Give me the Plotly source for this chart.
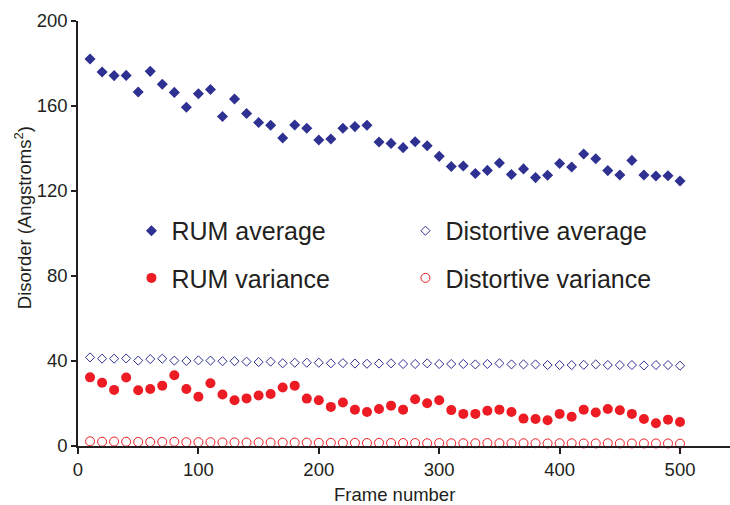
import plotly.graph_objects as go

# Frame numbers sampled every 10 frames
frames = list(range(10, 510, 10))

rum_average = [
    182.1, 176.0, 174.3, 174.4, 166.6, 176.3, 170.2, 166.4, 159.4, 165.8,
    167.8, 155.1, 163.3, 156.5, 152.2, 150.9, 144.9, 151.1, 149.5, 144.0,
    144.5, 149.5, 150.3, 150.9, 143.1, 142.4, 140.4, 143.2, 141.3, 136.3,
    131.5, 131.8, 128.2, 129.7, 133.2, 127.8, 130.4, 126.3, 127.4, 132.9,
    131.3, 137.4, 135.2, 129.6, 127.5, 134.4, 127.5, 127.1, 127.2, 124.7,
]

distortive_average = [
    41.7, 41.1, 41.1, 41.2, 40.2, 40.9, 41.1, 40.2, 40.0, 40.3,
    40.2, 39.9, 39.9, 39.7, 39.5, 39.7, 38.9, 39.2, 39.2, 39.2,
    38.9, 39.0, 38.8, 38.7, 38.8, 38.9, 38.6, 38.6, 38.9, 38.6,
    38.6, 38.6, 38.4, 38.6, 38.9, 38.4, 38.4, 38.4, 38.1, 38.1,
    38.1, 38.2, 38.4, 38.1, 38.1, 38.1, 37.9, 38.1, 38.1, 37.8,
]

rum_variance = [
    32.3, 29.8, 26.4, 32.2, 26.2, 26.8, 28.4, 33.3, 26.8, 23.2,
    29.5, 24.2, 21.5, 22.4, 23.8, 24.5, 27.5, 28.4, 22.3, 21.5,
    18.4, 20.5, 17.1, 16.0, 17.4, 19.0, 17.1, 22.0, 20.1, 21.5,
    16.9, 15.1, 15.1, 16.6, 17.1, 16.0, 12.9, 12.7, 12.1, 15.1,
    13.8, 17.1, 15.8, 17.4, 16.8, 15.1, 12.7, 10.7, 12.4, 11.3,
]

distortive_variance = [
    2.2, 2.0, 2.1, 2.0, 1.9, 1.9, 1.9, 2.0, 1.8, 1.8,
    1.8, 1.7, 1.7, 1.6, 1.7, 1.6, 1.6, 1.6, 1.6, 1.5,
    1.5, 1.5, 1.5, 1.4, 1.5, 1.4, 1.4, 1.4, 1.3, 1.4,
    1.3, 1.3, 1.3, 1.4, 1.3, 1.3, 1.3, 1.3, 1.2, 1.3,
    1.3, 1.2, 1.2, 1.3, 1.2, 1.2, 1.2, 1.2, 1.2, 1.1,
]

x_ticks = [0, 100, 200, 300, 400, 500]
y_ticks = [0, 40, 80, 120, 160, 200]

x_title = "Frame number"
y_title = "Disorder (Angstroms<sup>2</sup>)"

NAVY = "#2e3192"
RED = "#ed1c24"
INK = "#231f20"
FONT = "Liberation Sans, Arial, sans-serif"
AXIS_FONT = dict(family=FONT, size=18.5, color=INK)

fig = go.Figure()

fig.add_trace(go.Scatter(
    x=frames, y=rum_average, mode="markers", name="RUM average",
    marker=dict(symbol="diamond", size=8.5, color=NAVY),
    cliponaxis=False, legend="legend",
))
fig.add_trace(go.Scatter(
    x=frames, y=distortive_average, mode="markers", name="Distortive average",
    marker=dict(symbol="diamond-open", size=7, color=NAVY, line=dict(width=1)),
    cliponaxis=False, legend="legend",
))
fig.add_trace(go.Scatter(
    x=frames, y=rum_variance, mode="markers", name="RUM variance",
    marker=dict(symbol="circle", size=10, color=RED),
    cliponaxis=False, legend="legend2",
))
fig.add_trace(go.Scatter(
    x=frames, y=distortive_variance, mode="markers", name="Distortive variance",
    marker=dict(symbol="circle-open", size=9, color=RED, line=dict(width=1)),
    cliponaxis=False, legend="legend2",
))

legend_style = dict(
    orientation="h", xanchor="left", yanchor="middle",
    x=0.082, font=dict(family=FONT, size=25, color=INK),
    bgcolor="rgba(0,0,0,0)", entrywidth=229, itemwidth=30,
)

fig.update_layout(
    width=730, height=505,
    margin=dict(l=78, r=0, t=21, b=59),
    paper_bgcolor="white", plot_bgcolor="white",
    font=dict(family=FONT, size=18.5, color=INK),
    legend=dict(y=0.506, **legend_style),
    legend2=dict(y=0.395, **legend_style),
    xaxis=dict(
        range=[0, 541.5], tickvals=x_ticks, showgrid=False, zeroline=False,
        showline=True, linecolor=INK, linewidth=1.5,
        ticks="outside", ticklen=6, tickcolor=INK, tickwidth=1.5,
        tickfont=AXIS_FONT,
    ),
    yaxis=dict(
        range=[0, 200], tickvals=y_ticks, showgrid=False, zeroline=False,
        showline=True, linecolor=INK, linewidth=1.5,
        ticks="outside", ticklen=5, tickcolor=INK, tickwidth=1.5,
        tickfont=AXIS_FONT,
    ),
    annotations=[
        dict(text=x_title, xref="paper", yref="paper", x=0.485, y=0,
             xanchor="center", yanchor="middle", yshift=-48,
             showarrow=False, font=AXIS_FONT),
        dict(text=y_title, xref="paper", yref="paper", x=0, y=0.536,
             xanchor="center", yanchor="middle", xshift=-55, textangle=-90,
             showarrow=False, font=AXIS_FONT),
    ],
)

fig.write_html("out.html")
